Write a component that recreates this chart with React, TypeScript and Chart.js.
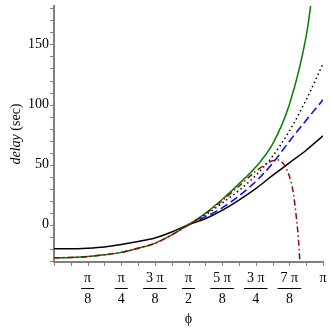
import React, { useEffect, useRef } from "react";
import { Chart, registerables } from "chart.js";

Chart.register(...registerables);

// phi in units of pi
const phiFull = [0, 0.0625, 0.125, 0.1875, 0.25, 0.3125, 0.375, 0.4375, 0.5, 0.5625, 0.625, 0.6875, 0.75, 0.8125, 0.875, 0.9375, 1];
const blackDelay = [-20, -20, -19.5, -18.5, -16.5, -14, -11, -6, 0, 5, 12, 20.5, 30, 41, 51.5, 62, 74];

const phiUpper = [0.5, 0.5625, 0.625, 0.6875, 0.75, 0.8125, 0.875, 0.9375, 1];
const dottedDelay = [0, 8, 18, 28.5, 41, 57, 78, 104, 134];
const blueDelay = [0, 6.5, 14, 24, 36, 51, 69.5, 87, 104];

const greenPhi = [0, 0.0625, 0.125, 0.1875, 0.25, 0.3125, 0.375, 0.4375, 0.5, 0.5625, 0.625, 0.6875, 0.75, 0.8125, 0.875, 0.9375, 0.955, 0.97];
const greenDelay = [-27.5, -27.2, -26.5, -25, -23, -19.5, -15.5, -8.5, 0, 9.5, 21, 34, 48, 67, 100, 157, 184, 215];

const redPhi = [0, 0.0625, 0.125, 0.1875, 0.25, 0.3125, 0.375, 0.4375, 0.5, 0.5625, 0.625, 0.6875, 0.75, 0.78, 0.81, 0.83, 0.85, 0.865, 0.877, 0.89, 0.9, 0.908, 0.914, 0.92];
const redDelay = [-27.5, -27.2, -26.5, -25, -23, -19.5, -15.5, -8.5, 0, 9, 20, 32, 44.5, 49.5, 53, 54, 51.5, 46, 39, 26, 8, -10, -31, -60];

const xTickValues = [0.125, 0.25, 0.375, 0.5, 0.625, 0.75, 0.875, 1];
const xTickNums = ["π", "π", "3 π", "π", "5 π", "3 π", "7 π", "π"];
const xTickDens = ["8", "4", "8", "2", "8", "4", "8", ""];
const yTickValues = [0, 50, 100, 150];

const SERIF = "'Liberation Serif', 'DejaVu Serif', serif";

function pts(xs: number[], ys: number[]) {
  return xs.map((x, i) => ({ x, y: ys[i] }));
}

const decorPlugin = {
  id: "decor",
  afterDraw(chart: any) {
    const { ctx, chartArea, scales } = chart;
    const xs = scales.x;
    const ys = scales.y;
    ctx.save();
    ctx.strokeStyle = "#808080";
    ctx.lineWidth = 1;
    for (let v = -30; v <= 180; v += 10) {
      const py = Math.round(ys.getPixelForValue(v)) + 0.5;
      ctx.beginPath();
      ctx.moveTo(chartArea.left - 4, py);
      ctx.lineTo(chartArea.left, py);
      ctx.stroke();
    }
    for (let k = 0; k <= 16; k++) {
      const px = Math.round(xs.getPixelForValue(k / 16)) + 0.5;
      ctx.beginPath();
      ctx.moveTo(px, chartArea.bottom);
      ctx.lineTo(px, chartArea.bottom + 4);
      ctx.stroke();
    }
    ctx.strokeStyle = "#000";
    ctx.lineWidth = 1;
    ctx.font = `14px ${SERIF}`;
    xTickValues.forEach((v, i) => {
      if (!xTickDens[i]) return;
      const px = xs.getPixelForValue(v);
      const w = Math.max(ctx.measureText(xTickNums[i]).width, ctx.measureText(xTickDens[i]).width) + 6;
      const by = Math.round(chartArea.bottom + 26) + 0.5;
      ctx.beginPath();
      ctx.moveTo(px - w / 2, by);
      ctx.lineTo(px + w / 2, by);
      ctx.stroke();
    });
    ctx.fillStyle = "#000";
    ctx.textBaseline = "middle";
    const t1 = "delay";
    const t2 = " (sec)";
    ctx.font = `italic 14px ${SERIF}`;
    const w1 = ctx.measureText(t1).width;
    ctx.font = `14px ${SERIF}`;
    const w2 = ctx.measureText(t2).width;
    const cy = (chartArea.top + chartArea.bottom) / 2;
    ctx.translate(16, cy);
    ctx.rotate(-Math.PI / 2);
    const start = -(w1 + w2) / 2;
    ctx.textAlign = "left";
    ctx.font = `italic 14px ${SERIF}`;
    ctx.fillText(t1, start, 0);
    ctx.font = `14px ${SERIF}`;
    ctx.fillText(t2, start + w1, 0);
    ctx.restore();
  },
};

export default function App() {
  const ref = useRef<HTMLCanvasElement | null>(null);
  useEffect(() => {
    if (!ref.current) return;
    const chart = new Chart(ref.current, {
      type: "line",
      data: {
        datasets: [
          {
            label: "red",
            data: pts(redPhi, redDelay),
            borderColor: "#8b0a0a",
            borderWidth: 1.5,
            borderDash: [6, 3, 1.5, 3],
            pointRadius: 0,
            cubicInterpolationMode: "monotone",
            fill: false,
          },
          {
            label: "green",
            data: pts(greenPhi, greenDelay),
            borderColor: "#0a7a0a",
            borderWidth: 1.5,
            pointRadius: 0,
            cubicInterpolationMode: "monotone",
            fill: false,
          },
          {
            label: "black",
            data: pts(phiFull, blackDelay),
            borderColor: "#000000",
            borderWidth: 1.5,
            pointRadius: 0,
            cubicInterpolationMode: "monotone",
            fill: false,
          },
          {
            label: "dotted",
            data: pts(phiUpper, dottedDelay),
            borderColor: "#000000",
            borderWidth: 1.5,
            borderDash: [1.5, 3],
            pointRadius: 0,
            cubicInterpolationMode: "monotone",
            fill: false,
          },
          {
            label: "blue",
            data: pts(phiUpper, blueDelay),
            borderColor: "#0000ff",
            borderWidth: 1.5,
            borderDash: [8, 4],
            pointRadius: 0,
            cubicInterpolationMode: "monotone",
            fill: false,
          },
        ],
      },
      options: {
        animation: false,
        responsive: false,
        layout: { padding: { top: 6, right: 9, left: 0, bottom: 0 } },
        plugins: { legend: { display: false }, tooltip: { enabled: false } },
        scales: {
          x: {
            type: "linear",
            min: 0,
            max: 1,
            grid: { display: false, drawTicks: false },
            border: { display: true, color: "#808080", width: 2 },
            afterBuildTicks: (s: any) => {
              s.ticks = xTickValues.map((v) => ({ value: v }));
            },
            afterFit: (s: any) => {
              s.height = 70;
              s.paddingLeft = 0;
              s.paddingRight = 0;
            },
            ticks: {
              autoSkip: false,
              maxRotation: 0,
              padding: 5.5,
              color: "#000",
              font: { family: SERIF, size: 14, lineHeight: 1.5 },
              callback: (v: any) => {
                const i = xTickValues.indexOf(Number(v));
                if (i < 0) return "";
                return xTickDens[i] ? [xTickNums[i], xTickDens[i]] : [xTickNums[i], ""];
              },
            },
            title: {
              display: true,
              text: "ϕ",
              color: "#000",
              font: { family: SERIF, size: 14 },
              padding: { top: 0, bottom: 4.6 },
            },
          },
          y: {
            type: "linear",
            min: -31,
            max: 182,
            grid: { display: false, drawTicks: false },
            border: { display: true, color: "#808080", width: 2 },
            afterBuildTicks: (s: any) => {
              s.ticks = yTickValues.map((v) => ({ value: v }));
            },
            afterFit: (s: any) => {
              s.width = 54;
              s.paddingTop = 0;
              s.paddingBottom = 0;
            },
            ticks: {
              padding: 5,
              color: "#000",
              font: { family: SERIF, size: 14 },
            },
          },
        },
      },
      plugins: [decorPlugin],
    } as any);
    return () => chart.destroy();
  }, []);
  return (
    <div style={{ position: "fixed", left: 0, top: 0, width: 332, height: 332, background: "#fff" }}>
      <canvas ref={ref} width={332} height={332} style={{ display: "block" }} />
    </div>
  );
}
